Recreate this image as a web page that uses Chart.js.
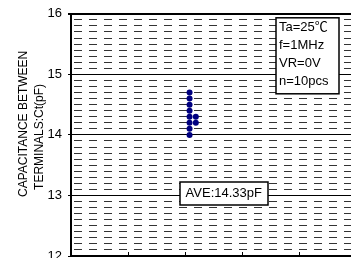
<!DOCTYPE html>
<html>
<head>
<meta charset="utf-8">
<script src="https://cdn.jsdelivr.net/npm/chart.js@4.4.0/dist/chart.umd.min.js"></script>
<style>
html, body { margin: 0; padding: 0; background: #fff; overflow: hidden; }
#wrap { width: 360px; height: 300px; }
</style>
</head>
<body>
<div id="wrap"><canvas id="ctChart" width="360" height="300"></canvas></div>
<script>
const sampleX = [2.08, 2.08, 2.08, 2.19, 2.08, 2.19, 2.08, 2.08, 2.08, 2.08];
const ctValues = [14.0, 14.1, 14.2, 14.2, 14.3, 14.3, 14.4, 14.5, 14.6, 14.7];
const yMajorTicks = [12, 13, 14, 15, 16];
const yTitleLines = ['CAPACITANCE BETWEEN', 'TERMINALS:Ct(pF)'];
const condLines = ['Ta=25℃', 'f=1MHz', 'VR=0V', 'n=10pcs'];
const aveLabel = 'AVE:14.33pF';

const FONT = '"Liberation Sans", Arial, "Noto Sans CJK JP", sans-serif';

function isMajor(v) {
    return yMajorTicks.some(t => Math.abs(t - v) < 1e-6);
}

// text boxes + axis title
const notesPlugin = {
    id: 'notes',
    afterDraw(chart) {
        const { ctx, chartArea, scales } = chart;
        const mid = (chartArea.top + chartArea.bottom) / 2;
        ctx.save();
        ctx.fillStyle = '#000';

        // y axis title, two rotated lines
        ctx.font = '12px ' + FONT;
        ctx.textAlign = 'center';
        ctx.textBaseline = 'middle';
        const titlePos = [[chartArea.left - 47, mid - 11], [chartArea.left - 31.5, mid + 2]];
        yTitleLines.forEach((line, i) => {
            ctx.save();
            ctx.translate(titlePos[i][0], titlePos[i][1]);
            ctx.rotate(-Math.PI / 2);
            ctx.fillText(line, 0, 0);
            ctx.restore();
        });

        ctx.font = '13px ' + FONT;
        ctx.lineWidth = 1.5;
        ctx.strokeStyle = '#000';

        // conditions box
        const bx = chartArea.left + 205, by = chartArea.top + 4, bw = 63, bh = 76;
        ctx.fillStyle = '#fff';
        ctx.fillRect(bx, by, bw, bh);
        ctx.strokeRect(bx, by, bw, bh);
        ctx.fillStyle = '#000';
        ctx.textAlign = 'left';
        condLines.forEach((line, i) => {
            ctx.fillText(line, bx + 3, by + 10 + i * 17.8);
        });

        // average box
        const cx = scales.x.getPixelForValue(2.68);
        const cy = scales.y.getPixelForValue(13.04);
        const tw = ctx.measureText(aveLabel).width;
        const aw = Math.round(tw + 12), ah = 23;
        const ax = Math.round(cx - aw / 2), ay = Math.round(cy - ah / 2);
        ctx.fillStyle = '#fff';
        ctx.fillRect(ax, ay, aw, ah);
        ctx.strokeRect(ax, ay, aw, ah);
        ctx.fillStyle = '#000';
        ctx.textAlign = 'center';
        ctx.fillText(aveLabel, cx, cy + 0.5);

        ctx.restore();
    }
};

const ctx = document.getElementById('ctChart').getContext('2d');

const chart = new Chart(ctx, {
    type: 'scatter',
    data: {
        datasets: [{
            data: sampleX.map((x, i) => ({ x: x, y: ctValues[i] })),
            backgroundColor: '#000080',
            borderColor: '#000080',
            borderWidth: 0,
            pointRadius: 3,
            pointHoverRadius: 3
        }]
    },
    options: {
        responsive: false,
        animation: false,
        layout: { padding: { left: 1, top: 12, right: 4, bottom: 0 } },
        plugins: {
            legend: { display: false },
            tooltip: { enabled: false }
        },
        scales: {
            x: {
                type: 'linear',
                min: 0,
                max: 5,
                ticks: { display: false, stepSize: 1 },
                grid: { color: '#000', lineWidth: 1, drawTicks: false },
                border: {
                    color: '#000',
                    width: 2,
                    // only a short inside tick at the bottom
                    dash: c => {
                        const a = c.chart.chartArea;
                        const h = a ? a.bottom - a.top : 244;
                        return [0, h - 4, 4, 1000];
                    }
                },
                afterFit: s => { s.height = 44; }
            },
            y: {
                min: 12,
                max: 16,
                ticks: {
                    stepSize: 0.1,
                    autoSkip: false,
                    maxTicksLimit: 100,
                    color: '#000',
                    padding: 6,
                    font: { family: FONT, size: 13 },
                    callback: v => isMajor(v) ? String(Math.round(v)) : ''
                },
                grid: {
                    color: c => (c.tick && isMajor(c.tick.value)) ? '#000' : '#333',
                    lineWidth: c => (c.tick && Math.abs(c.tick.value - 16) < 1e-6) ? 2 : 1,
                    tickLength: 3,
                    tickColor: c => (c.tick && isMajor(c.tick.value)) ? '#000' : 'rgba(0,0,0,0)'
                },
                border: {
                    color: '#000',
                    width: 2,
                    dash: c => (c.tick && !isMajor(c.tick.value)) ? [8, 7] : [],
                    dashOffset: 13
                },
                afterFit: s => { s.width = 70; }
            }
        }
    },
    plugins: [notesPlugin]
});
</script>
</body>
</html>
